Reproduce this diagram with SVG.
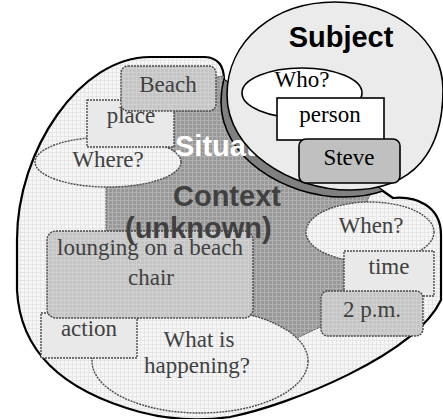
<svg xmlns="http://www.w3.org/2000/svg" width="443" height="419" viewBox="0 0 443 419">
  <defs>
    <!-- halftone-like fills -->
    <pattern id="texLight" width="4" height="4" patternUnits="userSpaceOnUse">
      <rect width="4" height="4" fill="#f6f6f6"/>
      <path d="M0 0.5H4M0.5 0V4" stroke="#e6e6e6" stroke-width="1"/>
    </pattern>
    <pattern id="texDark" width="4" height="4" patternUnits="userSpaceOnUse">
      <rect width="4" height="4" fill="#989898"/>
      <path d="M0 0.5H4M0.5 0V4" stroke="#b0b0b0" stroke-width="1"/>
    </pattern>
    <pattern id="texMid" width="4" height="4" patternUnits="userSpaceOnUse">
      <rect width="4" height="4" fill="#c4c4c4"/>
      <path d="M0 0.5H4M0.5 0V4" stroke="#d0d0d0" stroke-width="1"/>
    </pattern>
    <path id="outerShape" d="M17,240 C17,150 80,57 150,57 L205,57 Q224,58 224,80 L393,198 C415,196 441,205 441,235 L441,300 C415,355 290,405 230,417 C200,421 170,420 140,412 C60,390 20,350 17,290 Z"/>
    <path id="subjectShape" d="M335,2 C395,2 443,40 443,90 C443,150 415,190 350,190 C290,190 227,150 227,95 C227,40 275,2 335,2 Z"/>
    <clipPath id="outerClip">
      <use href="#outerShape"/>
    </clipPath>
  </defs>
  <style>
    .serif { font-family: "Liberation Serif", "Times New Roman", serif; font-size: 23px; text-anchor: middle; }
    .ctx { fill: #404040; }
    .bold { font-family: "Liberation Sans", Arial, sans-serif; font-weight: bold; font-size: 29px; }
    .dotted { stroke: #4a4a4a; stroke-width: 1.4; stroke-dasharray: 2 1; }
    .solid { stroke: #000; stroke-width: 1.6; }
  </style>

  <!-- situation context region -->
  <g id="situation">
    <use href="#outerShape" fill="url(#texLight)" stroke="#000" stroke-width="2.2"/>
    <g clip-path="url(#outerClip)">
      <path d="M125,85 L226,76 L300,100 L370,195 L360,215 L350,255 L348,292 L335,320 L297,338 L260,348 L150,316 L110,300 L106,235 L106,187 L110,160 L120,130 Z" fill="url(#texDark)" stroke="#555" stroke-width="1" stroke-dasharray="2 1"/>
      <use href="#subjectShape" transform="translate(-6,7)" fill="#808080" stroke="#000" stroke-width="1.6"/>
    </g>
  </g>

  <g id="where">
    <ellipse cx="108" cy="162" rx="73" ry="25" fill="url(#texLight)" class="dotted"/>
    <text x="108" y="167" class="serif ctx">Where?</text>
  </g>
  <g id="place">
    <rect x="87" y="100" width="87" height="47" fill="#e9e9e9" class="dotted"/>
    <text x="131" y="123" class="serif ctx">place</text>
  </g>
  <g id="beach">
    <rect x="121" y="66" width="95" height="45" rx="7" fill="url(#texMid)" class="dotted"/>
    <text x="168" y="92" class="serif ctx">Beach</text>
  </g>

  <g id="happening">
    <ellipse cx="200" cy="361" rx="108" ry="52" fill="url(#texLight)" class="dotted"/>
    <text x="199" y="347" class="serif ctx">What is</text>
    <text x="197" y="373" class="serif ctx">happening?</text>
  </g>
  <g id="action">
    <rect x="41" y="313" width="96" height="45" fill="#e9e9e9" class="dotted"/>
    <text x="89" y="336" class="serif ctx">action</text>
  </g>
  <g id="lounging">
    <rect x="47" y="231" width="206" height="87" rx="9" fill="url(#texMid)" class="dotted"/>
    <text x="150" y="255" class="serif ctx">lounging on a beach</text>
    <text x="151" y="285" class="serif ctx">chair</text>
  </g>

  <g id="when">
    <ellipse cx="370" cy="232" rx="64" ry="30" fill="url(#texLight)" class="dotted"/>
    <text x="371" y="233" class="serif ctx">When?</text>
  </g>
  <g id="time">
    <rect x="344" y="251" width="90" height="45" fill="#e9e9e9" class="dotted"/>
    <text x="389" y="274" class="serif ctx">time</text>
  </g>
  <g id="pm">
    <rect x="321" y="291" width="102" height="45" rx="7" fill="url(#texMid)" class="dotted"/>
    <text x="372" y="317" class="serif ctx">2 p.m.</text>
  </g>

  <g id="situation-label" class="bold">
    <text x="175" y="156" fill="#fff">Situation</text>
    <text x="173" y="206" class="ctx">Context</text>
    <text x="125" y="238" class="ctx">(unknown)</text>
  </g>

  <!-- subject -->
  <g id="subject">
    <use href="#subjectShape" fill="#ebebeb" class="solid"/>
    <text x="341" y="47" class="bold" text-anchor="middle" fill="#000" font-size="28">Subject</text>
  </g>
  <g id="who">
    <ellipse cx="302" cy="93" rx="60" ry="25" fill="#fff" class="solid"/>
    <text x="302" y="87" class="serif">Who?</text>
  </g>
  <g id="person">
    <rect x="277" y="98" width="107" height="42" fill="#fff" class="solid"/>
    <text x="330" y="122" class="serif">person</text>
  </g>
  <g id="steve">
    <rect x="299" y="139" width="101" height="44" rx="7" fill="#c0c0c0" class="solid"/>
    <text x="349" y="165" class="serif">Steve</text>
  </g>

  <!-- connectors: none, the regions nest -->
  <g id="connectors"/>
</svg>
